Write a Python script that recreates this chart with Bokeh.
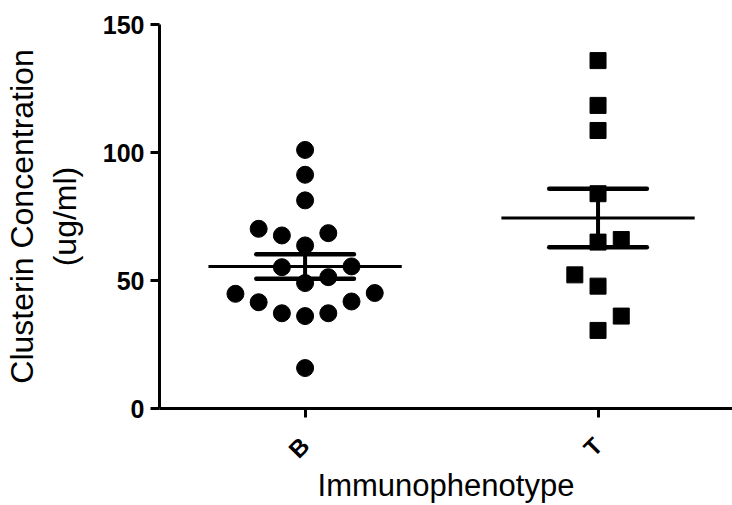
import numpy as np
from math import pi
from bokeh.plotting import figure
from bokeh.models import Range1d, FixedTicker, LinearAxis
from bokeh.embed import file_html
from bokeh.resources import INLINE

# Clusterin concentration (ug/ml) by immunophenotype
groups = ["B", "T"]
b_values = [101.0, 91.3, 81.3, 70.2, 67.6, 68.5, 63.7, 55.2, 55.5, 51.3,
            49.0, 44.8, 45.1, 41.5, 41.8, 37.2, 36.1, 37.2, 15.8]
t_values = [135.9, 118.4, 108.6, 83.9, 65.0, 66.0, 52.2, 47.8, 36.1, 30.5]
y_ticks = [0, 50, 100, 150]

PX_PER_X = 294.0           # pixels per x-data unit
SLOT = 23.3 / PX_PER_X     # horizontal spacing of swarm columns
ROW_SPAN = 9.4             # value span gathered into one swarm row
MEAN_HALF = 97 / PX_PER_X  # half-width of the mean line
CAP_HALF = 49 / PX_PER_X   # half-width of the SEM caps


def swarm(values, center):
    """Column-scatter layout: points grouped into rows, spread outwards
    from the centre, the starting side alternating row by row."""
    xs, ys = [], []
    row_start, row, n = None, -1, 0
    for v in sorted(values):
        if row_start is None or v - row_start >= ROW_SPAN:
            row_start, row, n = v, row + 1, 0
        side = 1 if row % 2 == 0 else -1
        m = (n + 1) // 2
        off = 0 if n == 0 else m * (side if n % 2 == 1 else -side)
        xs.append(center + off * SLOT)
        ys.append(v)
        n += 1
    return xs, ys


p = figure(width=732, height=505,
           x_range=Range1d(0.503, 2.459), y_range=Range1d(0, 150),
           output_backend="svg", toolbar_location=None,
           min_border_left=157, min_border_right=0,
           min_border_top=24, min_border_bottom=97)
p.outline_line_color = None
p.xgrid.visible = False
p.ygrid.visible = False
p.background_fill_color = "white"
p.border_fill_color = "white"

series = [(b_values, "circle", 17), (t_values, "square", 16)]
for i, (vals, marker, size) in enumerate(series):
    c = i + 1
    xs, ys = swarm(vals, c)
    p.scatter(xs, ys, marker=marker, size=size, color="black")

    arr = np.array(vals)
    mean = arr.mean()
    sem = arr.std(ddof=1) / np.sqrt(len(arr))
    p.segment(x0=[c - MEAN_HALF], y0=[mean], x1=[c + MEAN_HALF], y1=[mean],
              line_color="black", line_width=3)
    p.segment(x0=[c], y0=[mean - sem], x1=[c], y1=[mean + sem],
              line_color="black", line_width=4)
    p.segment(x0=[c - CAP_HALF, c - CAP_HALF], y0=[mean - sem, mean + sem],
              x1=[c + CAP_HALF, c + CAP_HALF], y1=[mean - sem, mean + sem],
              line_color="black", line_width=4.5, line_cap="round")

label_font = dict(axis_label_text_font="Liberation Sans",
                  axis_label_text_font_style="normal",
                  axis_label_text_color="black",
                  axis_label_text_line_height=1.0)

# y axis (units line of the title sits next to the tick labels)
ya = p.yaxis[0]
ya.ticker = FixedTicker(ticks=y_ticks)
ya.axis_line_width = 3
ya.axis_line_color = "black"
ya.major_tick_line_width = 3
ya.major_tick_line_color = "black"
ya.major_tick_out = 9
ya.major_tick_in = 0
ya.minor_tick_line_color = None
ya.major_label_text_font = "Liberation Sans"
ya.major_label_text_font_style = "bold"
ya.major_label_text_font_size = "25px"
ya.major_label_text_color = "black"
ya.major_label_standoff = 6
ya.axis_label = "(ug/ml)"
ya.axis_label_text_font_size = "32px"
ya.axis_label_standoff = 17
for k, v in label_font.items():
    setattr(ya, k, v)

# outer left axis carrying only the first line of the title
title_axis = LinearAxis(ticker=FixedTicker(ticks=[]),
                        axis_line_color=None, major_tick_line_color=None,
                        minor_tick_line_color=None, major_tick_out=0,
                        major_tick_in=0, major_label_standoff=0,
                        axis_label="Clusterin Concentration",
                        axis_label_text_font_size="32px",
                        axis_label_standoff=4, **label_font)
p.add_layout(title_axis, "left")

# x axis
xa = p.xaxis[0]
xa.ticker = FixedTicker(ticks=[1, 2])
xa.major_label_overrides = {i + 1: g for i, g in enumerate(groups)}
xa.major_label_orientation = pi / 4
xa.axis_line_width = 3
xa.axis_line_color = "black"
xa.major_tick_line_width = 3
xa.major_tick_line_color = "black"
xa.major_tick_out = 9
xa.major_tick_in = 0
xa.minor_tick_line_color = None
xa.major_label_text_font = "Liberation Sans"
xa.major_label_text_font_style = "bold"
xa.major_label_text_font_size = "24px"
xa.major_label_text_color = "black"
xa.major_label_standoff = 24
xa.axis_label = "Immunophenotype"
xa.axis_label_text_font_size = "31px"
xa.axis_label_standoff = -8
for k, v in label_font.items():
    setattr(xa, k, v)

open("out.html", "w").write(file_html(p, INLINE))
